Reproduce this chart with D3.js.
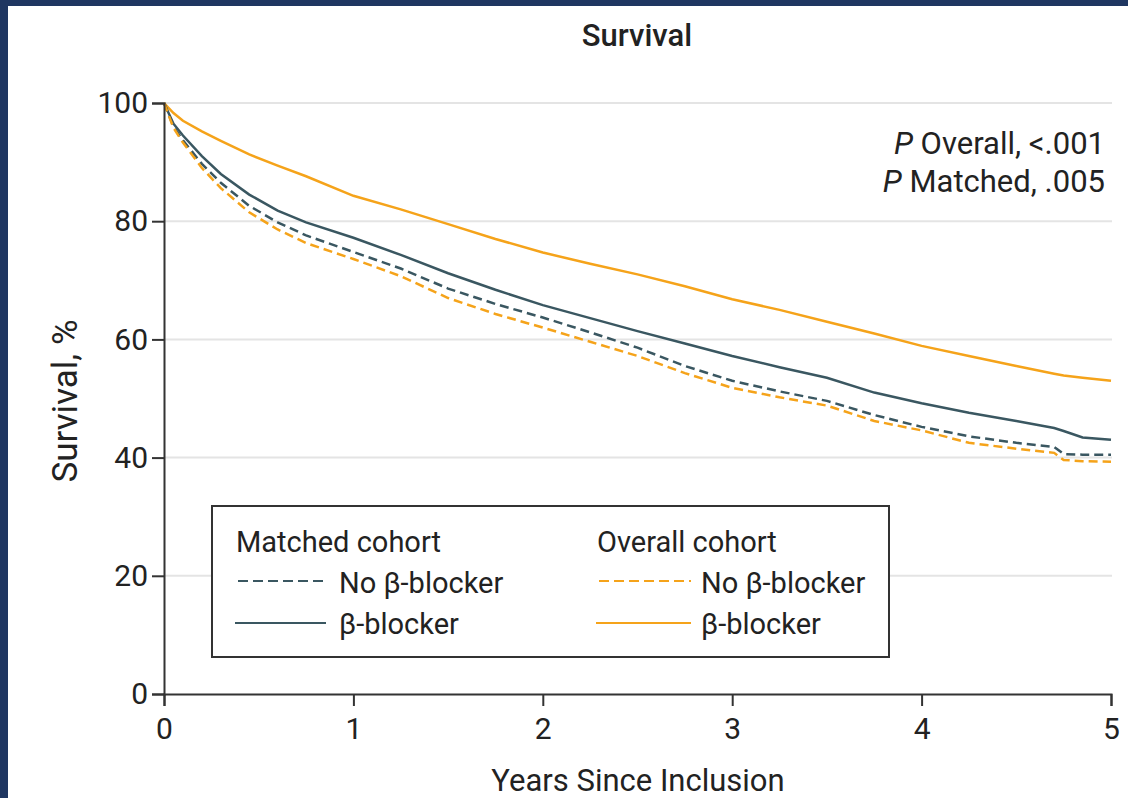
<!DOCTYPE html>
<meta charset="utf-8">
<script src="https://d3js.org/d3.v7.min.js"></script>
<style>
  body { margin: 0; background: #fff; }
  text { font-family: Roboto, "Noto Sans", sans-serif; fill: #222; }
</style>
<div id="chart"></div>
<script>

// years since inclusion
var years = [0, 0.05, 0.1, 0.2, 0.3, 0.45, 0.6, 0.75, 1.0, 1.25, 1.5, 1.75, 2.0, 2.25,
             2.5, 2.75, 3.0, 3.25, 3.5, 3.75, 4.0, 4.25, 4.5, 4.7, 4.75, 4.85, 5.0];

// survival, %
var overallBeta   = [100, 98.3, 97.0, 95.2, 93.6, 91.3, 89.4, 87.6, 84.3, 82.0, 79.5, 77.0, 74.7, 72.8,
                     71.0, 69.0, 66.8, 65.0, 63.0, 61.0, 58.9, 57.2, 55.5, 54.2, 53.9, 53.5, 53.0];
var overallNoBeta = [100, 95.8, 93.3, 89.0, 85.6, 81.5, 78.6, 76.3, 73.6, 70.7, 67.0, 64.3, 62.0, 59.6,
                     57.2, 54.3, 51.8, 50.2, 48.8, 46.2, 44.6, 42.5, 41.5, 40.8, 39.6, 39.4, 39.3];
var matchedBeta   = [100, 96.5, 94.5, 91.0, 88.0, 84.5, 81.8, 79.8, 77.2, 74.3, 71.2, 68.4, 65.8, 63.6,
                     61.4, 59.3, 57.2, 55.3, 53.5, 51.0, 49.2, 47.6, 46.2, 45.0, 44.5, 43.4, 43.0];
var matchedNoBeta = [100, 96.0, 93.7, 89.7, 86.5, 82.6, 79.8, 77.6, 74.8, 72.0, 68.6, 66.0, 63.7, 61.2,
                     58.6, 55.5, 53.0, 51.2, 49.6, 47.2, 45.2, 43.6, 42.5, 41.8, 40.6, 40.5, 40.5];

var yTicks = [0, 20, 40, 60, 80, 100];
var xTicks = [0, 1, 2, 3, 4, 5];

var orange = "#f5a31a", slate = "#3a5761";

var series = [
  {name: "overallBeta",   values: overallBeta,   color: orange, dash: null},
  {name: "matchedBeta",   values: matchedBeta,   color: slate,  dash: null},
  {name: "matchedNoBeta", values: matchedNoBeta, color: slate,  dash: "9,5"},
  {name: "overallNoBeta", values: overallNoBeta, color: orange, dash: "9,5"}
];

var W = 1128, H = 798;
var svg = d3.select("#chart").append("svg")
    .attr("width", W)
    .attr("height", H);

// navy frame on the left and top
svg.append("rect").attr("x", 0).attr("y", 0).attr("width", 8).attr("height", H).attr("fill", "#1f3661");
svg.append("rect").attr("x", 0).attr("y", 0).attr("width", W).attr("height", 6).attr("fill", "#1f3661");

var x = d3.scaleLinear().domain([0, 5]).range([164, 1111]);
var y = d3.scaleLinear().domain([0, 100]).range([694, 103]);

// grid
svg.append("g")
  .selectAll("line")
  .data(yTicks.filter(d => d > 0))
  .join("line")
    .attr("x1", x(0)).attr("x2", x(5) + 1)
    .attr("y1", d => y(d)).attr("y2", d => y(d))
    .attr("stroke", "#e4e4e4")
    .attr("stroke-width", 2);

// curves
var line = d3.line()
    .x((d, i) => x(years[i]))
    .y(d => y(d));

svg.append("g")
  .selectAll("path")
  .data(series)
  .join("path")
    .attr("d", d => line(d.values))
    .attr("fill", "none")
    .attr("stroke", d => d.color)
    .attr("stroke-width", 2.5)
    .attr("stroke-dasharray", d => d.dash);

// axes
var yAxis = svg.append("g")
    .attr("transform", `translate(${x(0)},0)`)
    .call(d3.axisLeft(y).tickValues(yTicks).tickSize(12).tickPadding(4));
var xAxis = svg.append("g")
    .attr("transform", `translate(0,${y(0)})`)
    .call(d3.axisBottom(x).tickValues(xTicks).tickFormat(d3.format("d")).tickSize(12).tickPadding(12));

[xAxis, yAxis].forEach(function(a) {
  a.selectAll("path, line").attr("stroke", "#333").attr("stroke-width", 2);
  a.selectAll("text")
    .style("font-family", "Roboto, sans-serif")
    .style("font-size", "30px")
    .attr("fill", "#222");
});

// title and axis labels
svg.append("text")
    .attr("x", 637).attr("y", 46)
    .attr("text-anchor", "middle")
    .style("font-size", "31px")
    .style("font-weight", "500")
    .text("Survival");

svg.append("text")
    .attr("transform", "translate(77,401) rotate(-90)")
    .attr("text-anchor", "middle")
    .style("font-size", "35px")
    .text("Survival, %");

svg.append("text")
    .attr("x", 638).attr("y", 791)
    .attr("text-anchor", "middle")
    .style("font-size", "31px")
    .text("Years Since Inclusion");

// P values
var pLines = [["Overall, <.001", 154], ["Matched, .005", 192]];
pLines.forEach(function(p) {
  var t = svg.append("text")
      .attr("x", 1105).attr("y", p[1])
      .attr("text-anchor", "end")
      .style("font-size", "31px");
  t.append("tspan").style("font-style", "italic").text("P");
  t.append("tspan").text(" " + p[0]);
});

// legend
var lg = svg.append("g");
lg.append("rect")
    .attr("x", 212).attr("y", 506)
    .attr("width", 677).attr("height", 151)
    .attr("fill", "#fff")
    .attr("stroke", "#333")
    .attr("stroke-width", 2);

var legendCols = [
  {title: "Matched cohort", x: 236, lx1: 238, lx2: 326, tx: 339, color: slate},
  {title: "Overall cohort", x: 597, lx1: 599, lx2: 691, tx: 701, color: orange}
];
legendCols.forEach(function(c) {
  lg.append("text").attr("x", c.x).attr("y", 552).style("font-size", "29px").text(c.title);
  lg.append("line")
      .attr("x1", c.lx1).attr("x2", c.lx2).attr("y1", 581).attr("y2", 581)
      .attr("stroke", c.color).attr("stroke-width", 2).attr("stroke-dasharray", "10,5");
  lg.append("text").attr("x", c.tx).attr("y", 593).style("font-size", "29px").text("No β-blocker");
  lg.append("line")
      .attr("x1", c.lx1 - 3).attr("x2", c.lx2).attr("y1", 623).attr("y2", 623)
      .attr("stroke", c.color).attr("stroke-width", 2);
  lg.append("text").attr("x", c.tx).attr("y", 634).style("font-size", "29px").text("β-blocker");
});

</script>
